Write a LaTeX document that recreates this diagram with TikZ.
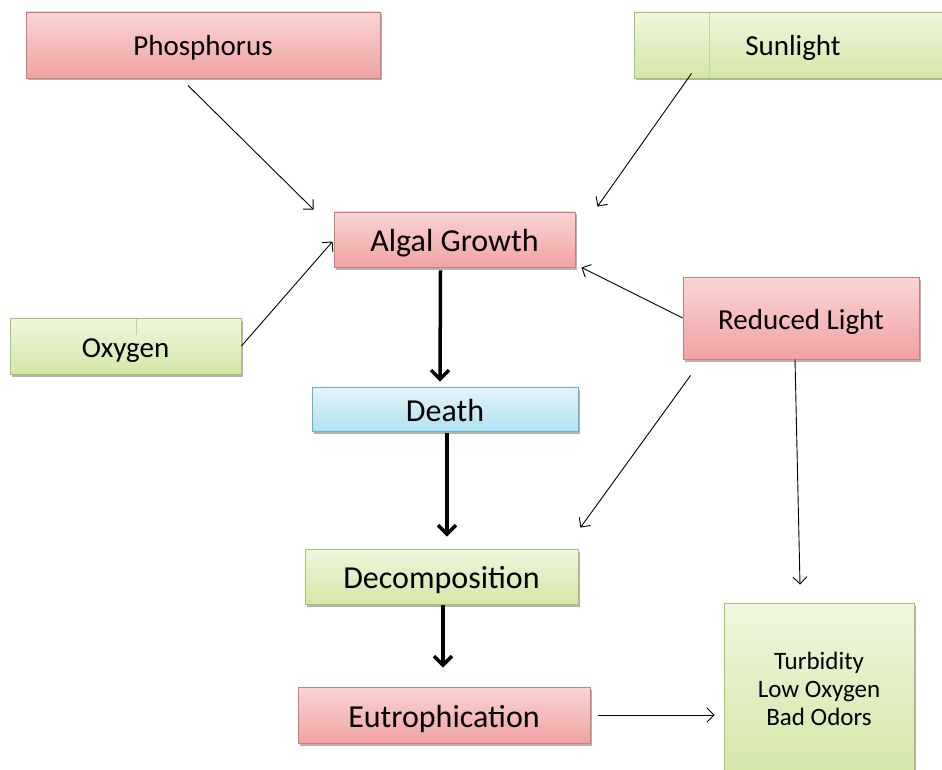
\documentclass[tikz,border=0pt]{standalone}
\usepackage{fontspec}
\setmainfont{Carlito}
\usetikzlibrary{arrows.meta,calc,shadows}

\definecolor{redtop}{HTML}{F9D5D4}
\definecolor{redbot}{HTML}{F0A3A2}
\definecolor{redline}{HTML}{CF7B79}
\definecolor{greentop}{HTML}{EFF6E0}
\definecolor{greenbot}{HTML}{D4E7A6}
\definecolor{greenline}{HTML}{A7C36C}
\definecolor{bluetop}{HTML}{E4F5FB}
\definecolor{bluebot}{HTML}{B2E1EF}
\definecolor{blueline}{HTML}{5EB7D0}

\tikzset{
  box/.style={draw, line width=0.9pt, inner sep=0pt, align=center,
    drop shadow={shadow xshift=1.5pt, shadow yshift=-2.5pt, opacity=0.3, fill=black}},
  redbox/.style={box, draw=redline, top color=redtop, bottom color=redbot},
  greenbox/.style={box, draw=greenline, top color=greentop, bottom color=greenbot},
  bluebox/.style={box, draw=blueline, top color=bluetop, bottom color=bluebot},
  small/.style={font=\fontsize{29}{34}\selectfont, text height=23pt, text depth=1pt},
  big/.style={font=\fontsize{32}{38}\selectfont, text height=25pt, text depth=1pt},
  thin arrow/.style={line width=0.9pt, -{Straight Barb[length=7pt,width=14pt,line width=0.9pt]}},
  thick arrow/.style={line width=3.5pt, -{Straight Barb[length=9pt,width=18pt,line width=3.5pt]}},
}

\begin{document}
\begin{tikzpicture}[x=1pt, y=-1pt]
  \useasboundingbox (0,0) rectangle (942,770);

  % source boxes
  \node[redbox, small, minimum width=354pt, minimum height=66pt] (phos) at (203,45) {Phosphorus};
  \node[greenbox, small, minimum width=318pt, minimum height=66pt] (sun) at (793,45) {Sunlight};
  \node[greenbox, small, minimum width=231pt, minimum height=56pt] (oxy) at (125.5,346) {Oxygen};
  \node[redbox, small, minimum width=236pt, minimum height=82pt] (red) at (801,318) {Reduced Light};

  % faint divider lines inside the green boxes
  \draw[greenline!70, line width=0.6pt] ($(sun.north west)+(76,1)$) -- ($(sun.south west)+(76,-1)$);
  \draw[greenline!70, line width=0.6pt] ($(oxy.north west)+(127,1)$) -- ($(oxy.north west)+(127,17)$);

  % main chain
  \node[redbox, big, minimum width=241pt, minimum height=55pt] (algal) at (454.5,239.5) {Algal Growth};
  \node[bluebox, big, minimum width=266pt, minimum height=44pt] (death) at (445,409) {Death};
  \node[greenbox, big, minimum width=273pt, minimum height=55pt] (decomp) at (441.5,576.5) {Decomposition};
  \node[redbox, big, minimum width=292pt, minimum height=56pt] (eutro) at (444,715) {Eutrophication};

  % outcome box
  \node[greenbox, minimum width=190pt, minimum height=172pt,
        font=\fontsize{25}{28}\selectfont] (turb) at (819,689) {Turbidity\\Low Oxygen\\Bad Odors};

  % inputs to algal growth
  \draw[thin arrow] ($(phos.south)+(-15,7)$) -- ($(algal.north west)+(-20,-2)$);
  \draw[thin arrow] ($(sun.south west)+(58,-5)$) -- ($(algal.north east)+(22,-5)$);
  \draw[thin arrow] (oxy.east) -- ($(algal.west)+(-1,2)$);
  \draw[thin arrow] (red.west) -- ($(algal.south east)+(6,0)$);

  % effects of reduced light
  \draw[thin arrow] ($(red.south west)+(8,16)$) -- ($(decomp.north east)+(2,-21)$);
  \draw[thin arrow] ($(red.south)+(-6,0)$) -- ($(turb.north)+(-19,-18)$);

  % main sequence
  \draw[thick arrow] ($(algal.south)+(-14,3)$) -- ($(death.north)+(-5,-5)$);
  \draw[thick arrow] ($(death.south)+(2,2)$) -- ($(decomp.north)+(5.5,-12)$);
  \draw[thick arrow] ($(decomp.south)+(1.5,1)$) -- ($(eutro.north)+(-1,-19)$);

  % eutrophication outcome
  \draw[thin arrow] ($(eutro.east)+(8,0)$) -- ($(turb.west |- eutro.east)+(-9,0)$);
\end{tikzpicture}
\end{document}
